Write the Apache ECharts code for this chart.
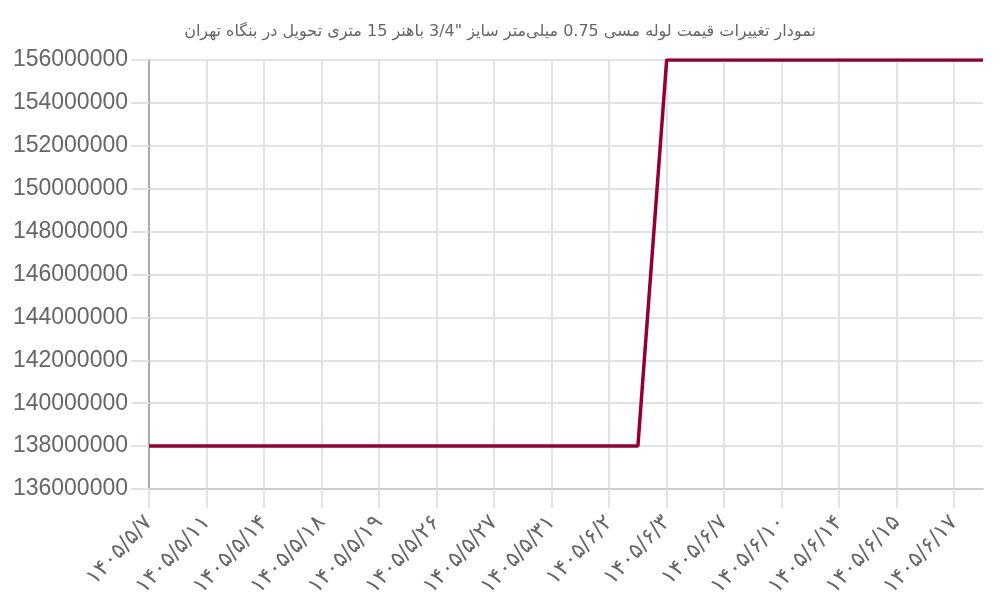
<!DOCTYPE html>
<html>
<head>
<meta charset="utf-8">
<script src="https://cdn.jsdelivr.net/npm/echarts@6/dist/echarts.min.js"></script>
<style>html,body{margin:0;padding:0;background:#fff}#c{width:1000px;height:600px}</style>
</head>
<body>
<div id="c" dir="rtl"></div>
<script>
const titleText = 'نمودار تغییرات قیمت لوله مسی 0.75 میلی‌متر سایز "3/4 باهنر 15 متری تحویل در بنگاه تهران';
const categories = [
  '۱۴۰۵/۵/۷','۱۴۰۵/۵/۱۰','۱۴۰۵/۵/۱۱','۱۴۰۵/۵/۱۲','۱۴۰۵/۵/۱۴','۱۴۰۵/۵/۱۷',
  '۱۴۰۵/۵/۱۸','۱۴۰۵/۵/۱۸','۱۴۰۵/۵/۱۹','۱۴۰۵/۵/۲۵','۱۴۰۵/۵/۲۶','۱۴۰۵/۵/۲۶',
  '۱۴۰۵/۵/۲۷','۱۴۰۵/۵/۲۸','۱۴۰۵/۵/۳۱','۱۴۰۵/۶/۱','۱۴۰۵/۶/۲','۱۴۰۵/۶/۲',
  '۱۴۰۵/۶/۳','۱۴۰۵/۶/۴','۱۴۰۵/۶/۷','۱۴۰۵/۶/۹','۱۴۰۵/۶/۱۰','۱۴۰۵/۶/۱۱',
  '۱۴۰۵/۶/۱۴','۱۴۰۵/۶/۱۴','۱۴۰۵/۶/۱۵','۱۴۰۵/۶/۱۶','۱۴۰۵/۶/۱۷','۱۴۰۵/۶/۱۸'
];
const prices = [
  138000000,138000000,138000000,138000000,138000000,138000000,
  138000000,138000000,138000000,138000000,138000000,138000000,
  138000000,138000000,138000000,138000000,138000000,138000000,
  156000000,156000000,156000000,156000000,156000000,156000000,
  156000000,156000000,156000000,156000000,156000000,156000000
];
const yMin = 136000000, yMax = 156000000, yStep = 2000000;

const chart = echarts.init(document.getElementById('c'));
chart.setOption({
  animation: false,
  title: {
    text: titleText, left: 'center', top: 19,
    textStyle: { fontSize: 16, fontWeight: 'normal', color: '#666', fontFamily: 'DejaVu Sans' }
  },
  grid: { left: 149, right: 17, top: 60, bottom: 110, containLabel: false },
  xAxis: {
    type: 'category', data: categories, boundaryGap: false,
    axisLine: { show: true, lineStyle: { color: '#cccccc', width: 2 } },
    axisTick: { show: true, interval: 1, length: 19, lineStyle: { color: '#e2e2e2', width: 2 } },
    splitLine: { show: true, interval: 1, lineStyle: { color: '#e2e2e2', width: 2 } },
    axisLabel: { interval: 1, rotate: 47, margin: 30, fontSize: 22, color: '#666', fontFamily: 'DejaVu Sans' }
  },
  yAxis: {
    type: 'value', min: yMin, max: yMax, interval: yStep,
    axisLine: { show: true, lineStyle: { color: '#aaaaaa', width: 2 } },
    axisTick: { show: true, length: 18, lineStyle: { color: '#e2e2e2', width: 2 } },
    splitLine: { show: true, lineStyle: { color: '#e2e2e2', width: 2 } },
    axisLabel: { margin: 21, fontSize: 23, color: '#666', fontFamily: 'Liberation Sans', formatter: v => String(v) }
  },
  series: [{
    type: 'line', data: prices, showSymbol: false,
    lineStyle: { color: '#940036', width: 3.5 }
  }]
});
</script>
</body>
</html>
